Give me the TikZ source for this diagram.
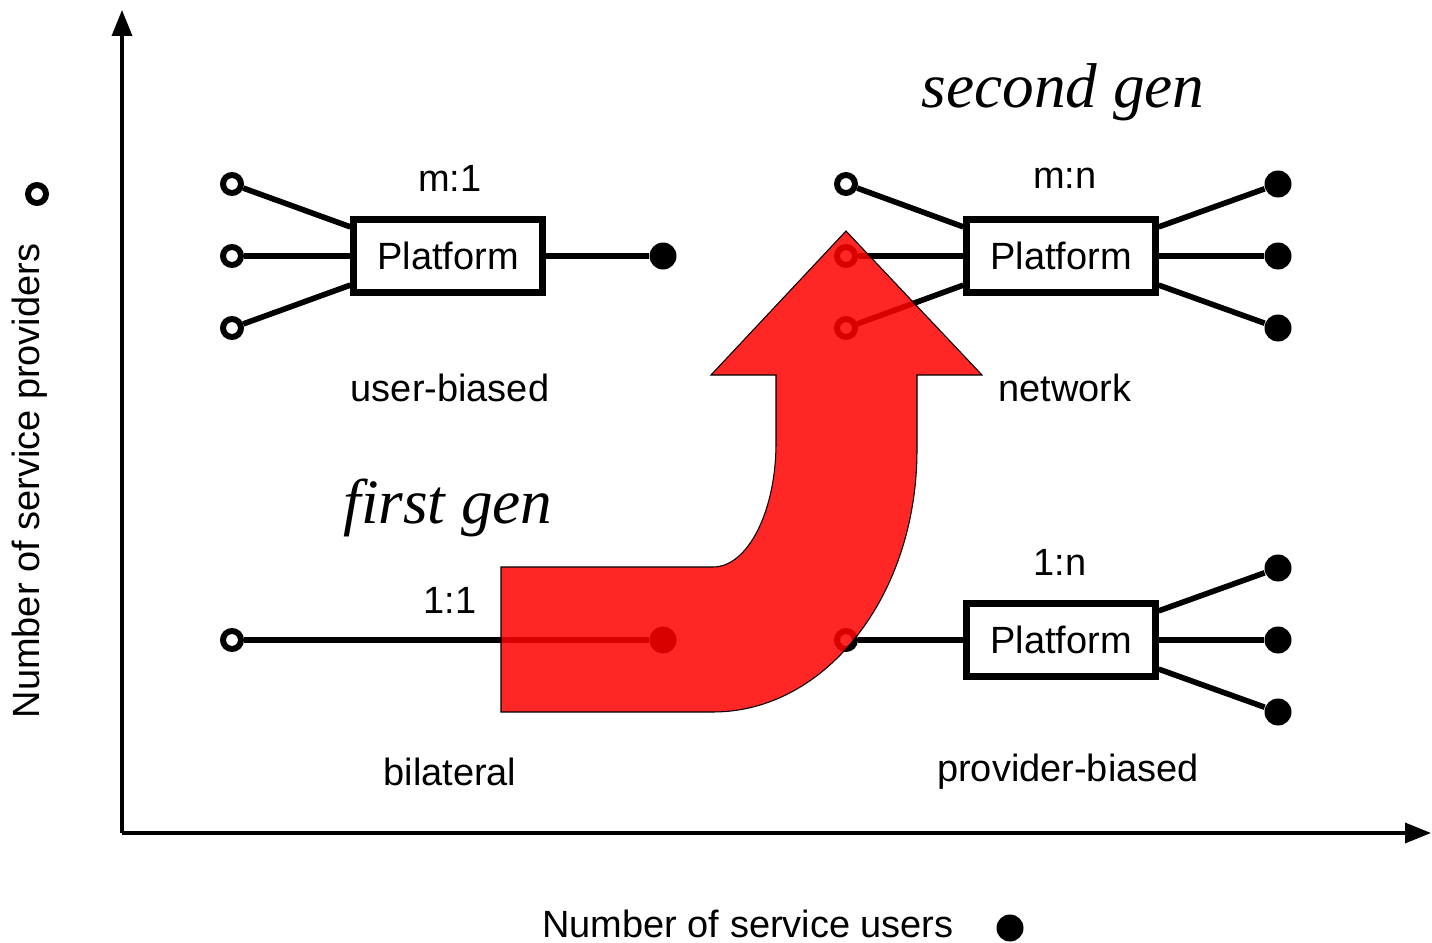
\documentclass[tikz,border=0pt]{standalone}
\usepackage{fontspec}
\setmainfont{Liberation Serif}
\setsansfont{Liberation Sans}
\usetikzlibrary{arrows.meta}

\tikzset{
  plat/.style={draw, line width=1.8pt, minimum width=18.9mm, minimum height=7.3mm, inner sep=0pt, font=\sffamily\fontsize{10.8}{12}\selectfont},
  prov/.style={circle, draw, line width=1.7pt, fill=white, minimum size=1.8mm, inner sep=0pt},
  user/.style={circle, fill, minimum size=2.7mm, inner sep=0pt},
  lbl/.style={font=\sffamily\fontsize{10.8}{12}\selectfont},
  gen/.style={font=\itshape\fontsize{18}{20}\selectfont},
  link/.style={line width=1.6pt},
  axis/.style={line width=1pt, -{Triangle[length=2.6mm,width=2mm]}},
}

\begin{document}
\begin{tikzpicture}[x=0.1mm, y=-0.1mm]
\useasboundingbox (0,0) rectangle (1432,943);

% axes
\coordinate (O) at (122,833);
\coordinate (ytip) at (122,10);
\coordinate (xtip) at (1431,833);
\draw[axis] (O) -- (ytip);
\draw[axis] (O) -- (xtip);
\node[lbl, rotate=90] (ylab) at (30,481) {Number of service providers};
\node[prov] (ykey) at (37,194) {};
\node[lbl] (xlab) at (748,924) {Number of service users};
\node[user] (xkey) at (1010,928) {};

% m:1
\node[plat] (pl1) at (448,256) {Platform};
\node[prov] (a1) at (232,184) {};
\node[prov] (a2) at (232,256) {};
\node[prov] (a3) at (232,328) {};
\node[user] (b1) at (663,256) {};
\draw[link] (a1) -- ([yshift=-3pt]pl1.north west);
\draw[link] (a2) -- (pl1.west);
\draw[link] (a3) -- ([yshift=3pt]pl1.south west);
\draw[link] (pl1.east) -- (b1);
\node[lbl] (t1) at (450,178) {m:1};
\node[lbl] (u1) at (450,388) {user-biased};

% m:n
\node[plat] (pl2) at (1061,256) {Platform};
\node[prov] (c1) at (846,184) {};
\node[prov] (c2) at (846,256) {};
\node[prov] (c3) at (846,328) {};
\node[user] (d1) at (1278,184) {};
\node[user] (d2) at (1278,256) {};
\node[user] (d3) at (1278,328) {};
\draw[link] (c1) -- ([yshift=-3pt]pl2.north west);
\draw[link] (c2) -- (pl2.west);
\draw[link] (c3) -- ([yshift=3pt]pl2.south west);
\draw[link] ([yshift=-3pt]pl2.north east) -- (d1);
\draw[link] (pl2.east) -- (d2);
\draw[link] ([yshift=3pt]pl2.south east) -- (d3);
\node[lbl] (t2) at (1065,178) {m:n};
\node[lbl] (u2) at (1065,388) {network};

% 1:1
\node[prov] (e1) at (232,640) {};
\node[user] (f1) at (663,640) {};
\draw[link] (e1) -- (f1);
\node[lbl] (t3) at (450,600) {1:1};
\node[lbl] (u3) at (450,772) {bilateral};

% 1:n
\node[plat] (pl4) at (1061,640) {Platform};
\node[prov] (g1) at (846,640) {};
\node[user] (h1) at (1278,568) {};
\node[user] (h2) at (1278,640) {};
\node[user] (h3) at (1278,712) {};
\draw[link] (g1) -- (pl4.west);
\draw[link] ([yshift=-3pt]pl4.north east) -- (h1);
\draw[link] (pl4.east) -- (h2);
\draw[link] ([yshift=3pt]pl4.south east) -- (h3);
\node[lbl] (t4) at (1060,562) {1:n};
\node[lbl] (u4) at (1068,772) {provider-biased};

% big arrow
\draw[fill=red, fill opacity=0.85, line width=0.3pt]
  (501,567) -- (713,567) .. controls (748,567) and (776,511) .. (776,443)
  -- (776,375) -- (711,375) -- (846,231) -- (982,375) -- (917,375) -- (917,450)
  .. controls (917,595) and (826,712) .. (713,712) -- (501,712) -- cycle;

\node[gen] (first) at (448,508) {first gen};
\node[gen] (second) at (1063,92) {second gen};
\end{tikzpicture}
\end{document}
